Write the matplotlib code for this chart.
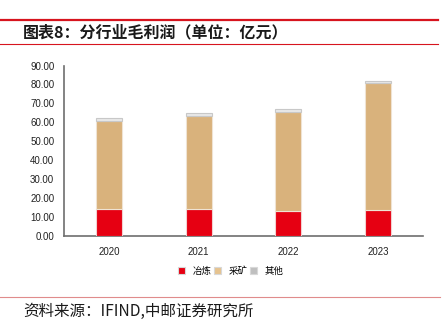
import matplotlib
matplotlib.use("Agg")
import matplotlib.pyplot as plt
from matplotlib.lines import Line2D
from matplotlib.patches import Patch

years = ["2020", "2021", "2022", "2023"]
smelting = [14.3, 14.0, 12.9, 13.6]
mining = [46.5, 49.3, 52.4, 67.0]
other = [1.3, 1.4, 1.5, 1.2]
series_names = ["冶炼", "采矿", "其他"]
yticks = [0, 10, 20, 30, 40, 50, 60, 70, 80, 90]

colors = ["#E60012", "#D9B27C", "#BFBFBF"]
cjk = ["Noto Sans CJK SC", "DejaVu Sans"]

fig = plt.figure(figsize=(4.47, 3.25), dpi=100)
ax = fig.add_axes([64/447, 1-235.7/325, (423-64)/447, (235.7-65.5)/325])

x = list(range(len(years)))
bottom2 = [a + b for a, b in zip(smelting, mining)]
w = 0.29
ax.bar(x, smelting, width=w, color=colors[0], edgecolor="#F2D0D0", linewidth=0.8, zorder=3)
ax.bar(x, mining, width=w, bottom=smelting, color=colors[1], edgecolor="#EFE3D3", linewidth=0.8, zorder=3)
ax.bar(x, other, width=w, bottom=bottom2, color="#E8E8E8", edgecolor="#C8C8C8", linewidth=0.8, zorder=3)

ax.set_xlim(-0.5, 3.5)
ax.set_ylim(0, 90)
ax.set_xticks(x)
ax.set_xticklabels(years, fontsize=7, family="Liberation Sans", color="#222222")
ax.set_yticks(yticks)
ax.set_yticklabels([f"{v:.2f}" for v in yticks], fontsize=7, family="Liberation Sans", color="#222222")
ax.tick_params(axis="both", length=0)
ax.tick_params(axis="x", pad=8)
ax.tick_params(axis="y", pad=7)
for s in ["top", "right"]:
    ax.spines[s].set_visible(False)
for s in ["left", "bottom"]:
    ax.spines[s].set_color("#6E6E6E")
    ax.spines[s].set_linewidth(1.2)

handles = [Patch(facecolor=colors[0], edgecolor="#D8D8D8", linewidth=0.8),
           Patch(facecolor="#E6C38F", edgecolor="#D8D8D8", linewidth=0.8),
           Patch(facecolor="#BFBFBF", edgecolor="#D8D8D8", linewidth=0.8)]
fig.legend(handles, series_names, loc="center", bbox_to_anchor=(231/447, 1-271/325),
           ncol=3, frameon=False, handlelength=0.7, handleheight=0.7,
           handletextpad=0.8, columnspacing=0.3, prop={"family": cjk, "size": 6.8})

# title and decorations
fig.add_artist(Line2D([0, 438/447], [1-20/325, 1-20/325], color="#D7141E", linewidth=1.6, transform=fig.transFigure))
fig.add_artist(Line2D([0, 438/447], [1-43.5/325, 1-43.5/325], color="#D7141E", linewidth=0.8, transform=fig.transFigure))
fig.text(23/447, 1-32/325, "图表8：分行业毛利润（单位：亿元）", fontsize=11.5, fontweight="bold",
         family=cjk, color="#1A1A1A", va="center", ha="left")
fig.add_artist(Line2D([0, 440/447], [1-296.7/325, 1-296.7/325], color="#E08C8C", linewidth=0.8, transform=fig.transFigure))
fig.text(23/447, 1-311/325, "资料来源：IFIND,中邮证券研究所", fontsize=11.2,
         family=cjk, color="#1A1A1A", va="center", ha="left")

fig.savefig("out.png", dpi=100)
